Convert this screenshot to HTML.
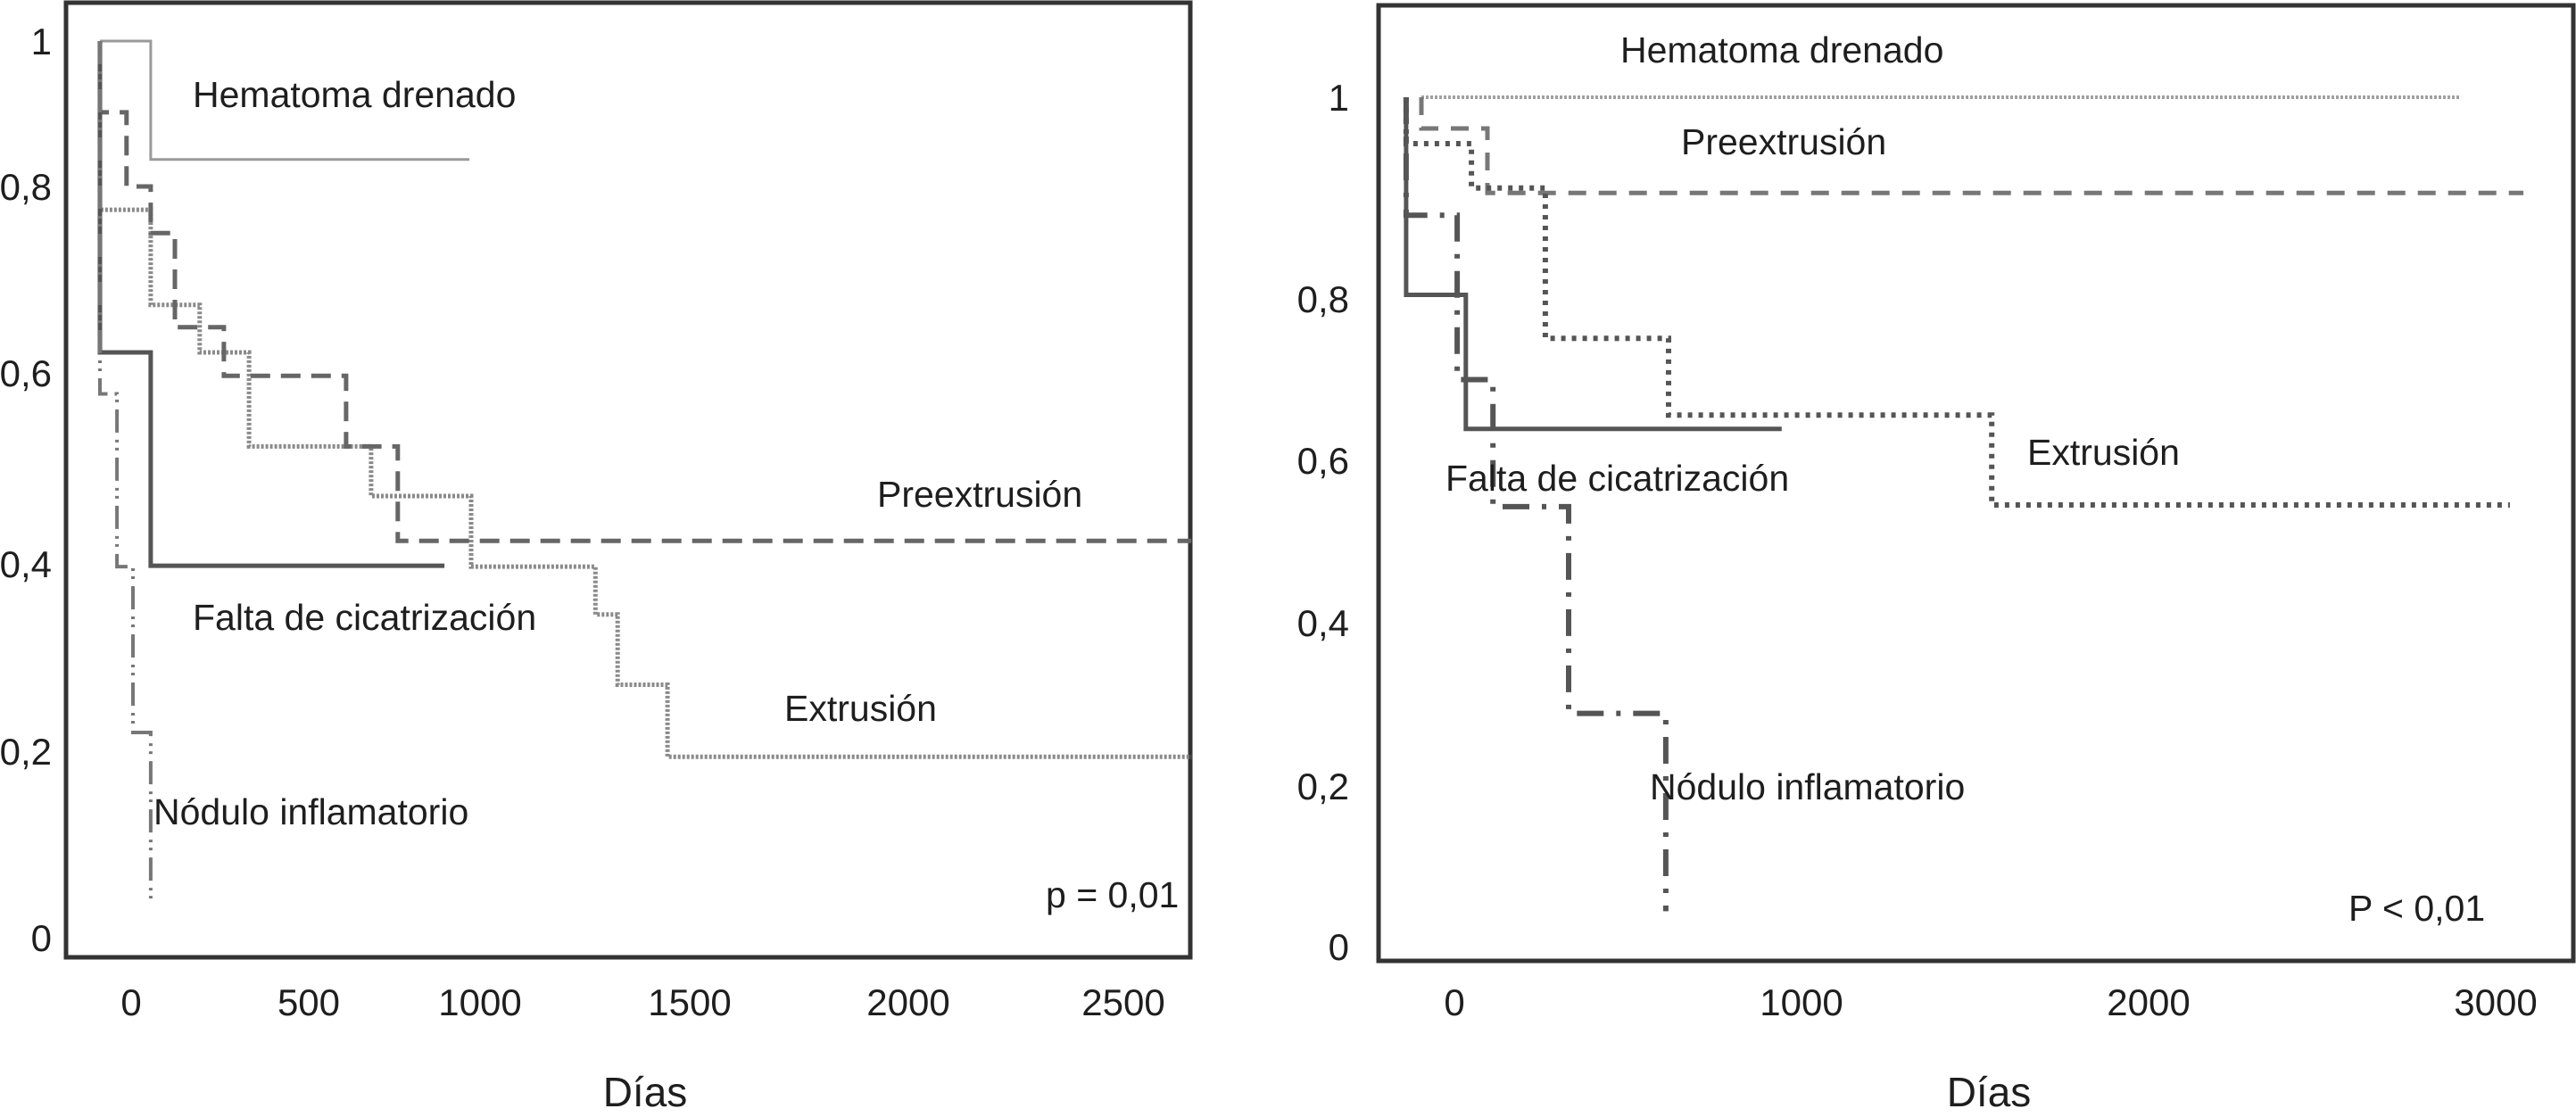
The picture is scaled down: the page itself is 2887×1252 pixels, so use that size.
<!DOCTYPE html>
<html><head><meta charset="utf-8">
<style>
html,body{margin:0;padding:0;background:#fff;}
svg{display:block;}
text{font-family:"Liberation Sans",Arial,sans-serif;fill:#1e1e1e;}
</style></head>
<body>
<svg id="fig" width="2887" height="1252" viewBox="0 0 2887 1252" xmlns="http://www.w3.org/2000/svg">
<rect x="0" y="0" width="2887" height="1252" fill="#fff"/>
<g id="left"></g>
<g id="right"></g>
</svg>
<script>
// ---- Left chart data ----
const leftXTicks = [0, 500, 1000, 1500, 2000, 2500];
const leftYTicks = [0, 0.2, 0.4, 0.6, 0.8, 1];
const leftYTickLabels = ["0", "0,2", "0,4", "0,6", "0,8", "1"];
const leftHemStart = -88, leftHemEnd = 969;
const leftHemTimes = [55];
const leftHemSurv = [0.837];
const leftPreStart = -88, leftPreEnd = 2658;
const leftPreTimes = [-88, -13, 55, 123, 261, 609, 760];
const leftPreSurv = [0.902, 0.80, 0.75, 0.649, 0.597, 0.523, 0.424];
const leftExtStart = -88, leftExtEnd = 2658;
const leftExtTimes = [-88, 55, 193, 332, 682, 974, 1275, 1328, 1447];
const leftExtSurv = [0.775, 0.673, 0.622, 0.523, 0.471, 0.397, 0.346, 0.271, 0.194];
const leftFalStart = -88, leftFalEnd = 896;
const leftFalTimes = [-88, 55];
const leftFalSurv = [0.622, 0.398];
const leftNodStart = -88, leftNodEnd = 55;
const leftNodTimes = [-88, -40, 5, 55];
const leftNodSurv = [0.578, 0.397, 0.22, 0.042];

// ---- Right chart data ----
const rightXTicks = [0, 1000, 2000, 3000];
const rightYTicks = [0, 0.2, 0.4, 0.6, 0.8, 1];
const rightYTickLabels = ["0", "0,2", "0,4", "0,6", "0,8", "1"];
const rightHemStart = -95, rightHemEnd = 2900;
const rightHemTimes = [];
const rightHemSurv = [];
const rightPreStart = -95, rightPreEnd = 3080;
const rightPreTimes = [-95, 95];
const rightPreSurv = [0.969, 0.905];
const rightExtStart = -139, rightExtEnd = 3041;
const rightExtTimes = [-139, 49, 262, 617, 1548];
const rightExtSurv = [0.954, 0.91, 0.751, 0.656, 0.545];
const rightFalStart = -139, rightFalEnd = 943;
const rightFalTimes = [-139, 33];
const rightFalSurv = [0.804, 0.639];
const rightNodStart = -139, rightNodEnd = 609;
const rightNodTimes = [-139, 8, 111, 329, 609];
const rightNodSurv = [0.883, 0.70, 0.543, 0.289, 0.044];

const NS = "http://www.w3.org/2000/svg";
function interp(v, dom, rng) {
  let i = 0;
  if (v <= dom[0]) i = 0;
  else if (v >= dom[dom.length - 1]) i = dom.length - 2;
  else { while (v > dom[i + 1]) i++; }
  const t = (v - dom[i]) / (dom[i + 1] - dom[i]);
  return rng[i] + t * (rng[i + 1] - rng[i]);
}
function mk(parent, tag, attrs, txt) {
  const el = document.createElementNS(NS, tag);
  for (const k in attrs) el.setAttribute(k, attrs[k]);
  if (txt !== undefined) el.textContent = txt;
  parent.appendChild(el);
  return el;
}
function stepPath(xs, ys, start, times, surv, end) {
  let d = "M" + xs(start).toFixed(1) + " " + ys(1).toFixed(1);
  for (let i = 0; i < times.length; i++) {
    d += " H" + xs(times[i]).toFixed(1) + " V" + ys(surv[i]).toFixed(1);
  }
  d += " H" + xs(end).toFixed(1);
  return d;
}

// Left axis calibration (scanned figure has uneven tick spacing)
const L_xPx = [147, 346, 538, 773, 1018, 1259];
const L_yPx = [1051, 842, 632, 418, 209, 46];
const lx = v => interp(v, leftXTicks, L_xPx);
const ly = v => interp(v, leftYTicks, L_yPx);
// Right axis calibration
const rx = v => 1630 + v * 0.389;
const R_yPx = [1061, 881, 698, 516, 335, 109];
const ry = v => interp(v, rightYTicks, R_yPx);

const gL = document.getElementById("left");
const gR = document.getElementById("right");

// frames
let f = mk(gL, "rect", {x:74, y:3, width:1260, height:1070, fill:"none", stroke:"#333", "stroke-width":5});


f = mk(gR, "rect", {x:1545, y:6, width:1339, height:1071, fill:"none", stroke:"#333", "stroke-width":5});



// left ticks
leftXTicks.forEach(v => {
  const t = mk(gL, "text", {x:lx(v), y:1138, "font-size":42, "text-anchor":"middle"}, String(v));
  
  
});
leftYTicks.forEach((v, i) => {
  const t = mk(gL, "text", {x:58, y:ly(v) + 15, "font-size":42, "text-anchor":"end"}, leftYTickLabels[i]);
  
  
});
rightXTicks.forEach(v => {
  const t = mk(gR, "text", {x:rx(v), y:1138, "font-size":42, "text-anchor":"middle"}, String(v));
  
  
});
rightYTicks.forEach((v, i) => {
  const t = mk(gR, "text", {x:1512, y:ry(v) + 15, "font-size":42, "text-anchor":"end"}, rightYTickLabels[i]);
  
  
});

// left series
let p;
p = mk(gL, "path", {d:stepPath(lx, ly, leftHemStart, leftHemTimes, leftHemSurv, leftHemEnd), fill:"none", stroke:"#9a9a9a", "stroke-width":3});


p = mk(gL, "path", {d:stepPath(lx, ly, leftExtStart, leftExtTimes, leftExtSurv, leftExtEnd), fill:"none", stroke:"#8a8a8a", "stroke-width":5, "stroke-dasharray":"3 2"});


p = mk(gL, "path", {d:stepPath(lx, ly, leftPreStart, leftPreTimes, leftPreSurv, leftPreEnd), fill:"none", stroke:"#666", "stroke-width":5, "stroke-dasharray":"22 12"});


p = mk(gL, "path", {d:stepPath(lx, ly, leftFalStart, leftFalTimes, leftFalSurv, leftFalEnd), fill:"none", stroke:"#555", "stroke-width":5});


p = mk(gL, "path", {d:stepPath(lx, ly, leftNodStart, leftNodTimes, leftNodSurv, leftNodEnd), fill:"none", stroke:"#777", "stroke-width":4, "stroke-dasharray":"26 8 3 6 3 8"});



// right series
p = mk(gR, "path", {d:stepPath(rx, ry, rightHemStart, rightHemTimes, rightHemSurv, rightHemEnd), fill:"none", stroke:"#a0a0a0", "stroke-width":4, "stroke-dasharray":"3 2"});


p = mk(gR, "path", {d:stepPath(rx, ry, rightPreStart, rightPreTimes, rightPreSurv, rightPreEnd), fill:"none", stroke:"#777", "stroke-width":5, "stroke-dasharray":"20 14"});


p = mk(gR, "path", {d:stepPath(rx, ry, rightExtStart, rightExtTimes, rightExtSurv, rightExtEnd), fill:"none", stroke:"#555", "stroke-width":6, "stroke-dasharray":"5 7"});


p = mk(gR, "path", {d:stepPath(rx, ry, rightFalStart, rightFalTimes, rightFalSurv, rightFalEnd), fill:"none", stroke:"#555", "stroke-width":5});


p = mk(gR, "path", {d:stepPath(rx, ry, rightNodStart, rightNodTimes, rightNodSurv, rightNodEnd), fill:"none", stroke:"#555", "stroke-width":6, "stroke-dasharray":"30 14 5 14"});


</script>

<!-- static labels -->
<svg style="position:absolute;left:0;top:0" width="2887" height="1252">
<g font-family="Liberation Sans, Arial, sans-serif" fill="#1e1e1e" font-size="41">
<text x="216" y="120">Hematoma drenado</text>
<text x="216" y="706">Falta de cicatrización</text>
<text x="172" y="924">Nódulo inflamatorio</text>
<text x="983" y="568">Preextrusión</text>
<text x="879" y="808">Extrusión</text>
<text x="1172" y="1017">p = 0,01</text>
<text x="723" y="1240" font-size="46" text-anchor="middle">Días</text>
<text x="1816" y="70">Hematoma drenado</text>
<text x="1884" y="173">Preextrusión</text>
<text x="1620" y="550">Falta de cicatrización</text>
<text x="2272" y="521">Extrusión</text>
<text x="1849" y="896">Nódulo inflamatorio</text>
<text x="2632" y="1032">P &lt; 0,01</text>
<text x="2229" y="1240" font-size="46" text-anchor="middle">Días</text>
</g>
</svg>
</body></html>
